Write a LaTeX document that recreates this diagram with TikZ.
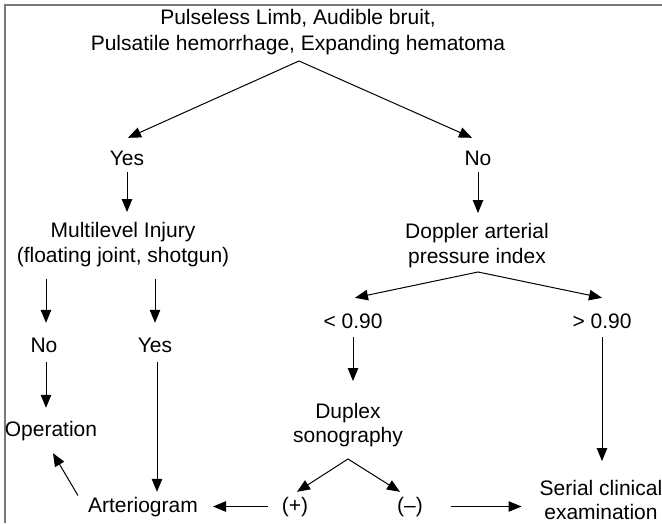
\documentclass[tikz,border=0pt]{standalone}
\usepackage{fontspec}
\setmainfont{Liberation Sans}
\usetikzlibrary{arrows.meta}
\definecolor{framegray}{RGB}{120,120,120}
\begin{document}
\begin{tikzpicture}[x=1pt,y=-1pt,
  lbl/.style={inner sep=0pt, font=\fontsize{21}{26}\selectfont, text height=15pt, text depth=4pt, anchor=base},
  lbltwo/.style={inner sep=0pt, align=center, anchor=north},
  arr/.style={line width=1pt, -{Triangle[length=13pt,width=10.5pt]}},
  framestyle/.style={line width=2pt, draw=framegray}]
\useasboundingbox (0,0) rectangle (662,523);
% frame
\coordinate (fa) at (5,523);
\coordinate (fb) at (5,5);
\coordinate (fc) at (662,5);
\draw[framestyle] (fa) -- (fb) -- (fc);

% nodes
\node[lbltwo, font=\fontsize{21}{26}\selectfont] (title) at (298,9) {Pulseless Limb, Audible bruit,\\Pulsatile hemorrhage, Expanding hematoma};
\node[lbl] (yes1) at (127,165) {Yes};
\node[lbl] (no1) at (478,165) {No};
\node[lbltwo, font=\fontsize{21}{25}\selectfont] (multi) at (123,222) {Multilevel Injury\\(floating joint, shotgun)};
\node[lbltwo, font=\fontsize{21}{25}\selectfont] (doppler) at (477,223) {Doppler arterial\\pressure index};
\node[lbl] (no2) at (44,352) {No};
\node[lbl] (yes2) at (155,352) {Yes};
\node[lbl] (lt) at (353,328) {< 0.90};
\node[lbl] (gt) at (602,328) {> 0.90};
\node[lbl] (op) at (51,436) {Operation};
\node[lbltwo, font=\fontsize{21}{24}\selectfont] (duplex) at (348,403) {Duplex\\sonography};
\node[lbl] (art) at (143,512) {Arteriogram};
\node[lbl] (plus) at (295,512) {(+)};
\node[lbl] (minus) at (410,512) {(–)};
\node[lbltwo, font=\fontsize{21}{24}\selectfont] (serial) at (601,480) {Serial clinical\\examination};

% connectors
\draw[arr] ([xshift=1pt,yshift=-6pt]title.south) -- ([xshift=1pt,yshift=12pt]yes1.north);
\draw[arr] ([xshift=1pt,yshift=-6pt]title.south) -- ([xshift=-6pt,yshift=12pt]no1.north);
\draw[arr] ([yshift=-3pt]yes1.south) -- ([yshift=10pt]yes1.south |- multi.north);
\draw[arr] ([yshift=-3pt]no1.south) -- ([yshift=10pt]no1.south |- doppler.north);
\draw[arr] ([xshift=2pt,yshift=-12pt]multi.south -| no2.north) -- ([xshift=2pt,yshift=14pt]no2.north);
\draw[arr] ([yshift=-12pt]multi.south -| yes2.north) -- ([yshift=14pt]yes2.north);
\draw[arr] ([xshift=2pt,yshift=-6pt]no2.south) -- ([xshift=2pt,yshift=13pt]no2.south |- op.north);
\draw[arr] ([xshift=2pt,yshift=-6pt]yes2.south) -- ([xshift=2pt,yshift=5pt]yes2.south |- art.north);
\draw[arr] ([xshift=1pt,yshift=-4pt]doppler.south) -- ([xshift=2pt,yshift=15pt]lt.north);
\draw[arr] ([xshift=1pt,yshift=-4pt]doppler.south) -- ([yshift=15pt]gt.north);
\draw[arr] ([yshift=-5pt]lt.south) -- ([yshift=22pt]lt.south |- duplex.north);
\draw[arr] ([yshift=-5pt]gt.south) -- ([yshift=19pt]gt.south |- serial.north);
\draw[arr] ([yshift=-12pt]duplex.south) -- ([xshift=2pt,yshift=5pt]plus.north);
\draw[arr] ([yshift=-12pt]duplex.south) -- ([xshift=-10pt,yshift=5pt]minus.north);
\draw[arr] ([xshift=-14pt]plus.west) -- ([xshift=15pt]plus.west -| art.east);
\draw[arr] ([xshift=28pt]minus.east) -- ([xshift=-18pt]minus.east -| serial.west);
\draw[arr] ([xshift=-10pt,yshift=11pt]art.west) -- ([xshift=2pt,yshift=-13pt]op.south);
\end{tikzpicture}
\end{document}
